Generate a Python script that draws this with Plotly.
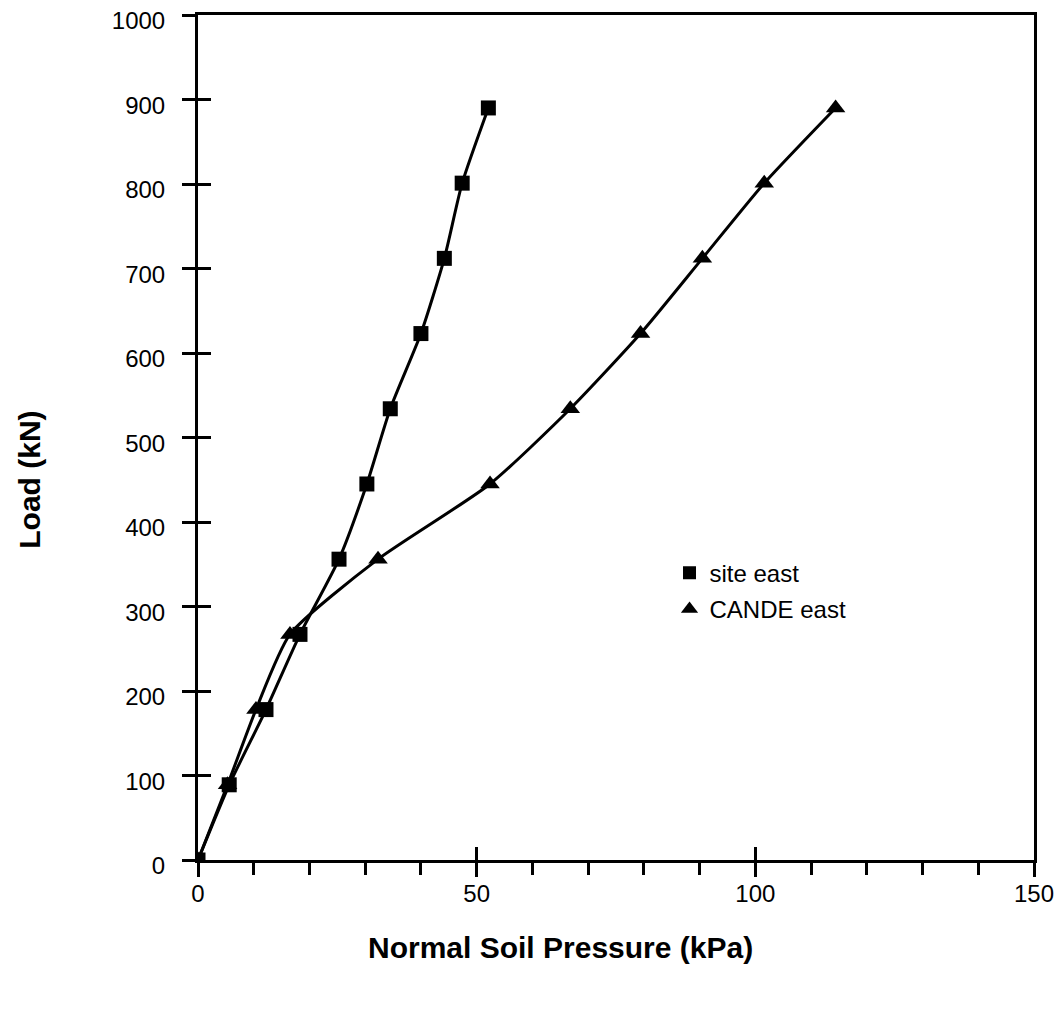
import plotly.graph_objects as go

# Data
load_kN = [0, 89, 178, 267, 356, 445, 534, 623, 712, 801, 890]
site_east_kPa = [0, 5.6, 12.2, 18.3, 25.3, 30.3, 34.5, 40.0, 44.2, 47.4, 52.1]
cande_east_kPa = [0, 5.3, 10.4, 16.5, 32.3, 52.4, 66.8, 79.4, 90.5, 101.6, 114.4]

x_ticks = [0, 50, 100, 150]
y_ticks = [0, 100, 200, 300, 400, 500, 600, 700, 800, 900, 1000]

x_title = "Normal Soil Pressure (kPa)"
y_title = "Load (kN)"

FONT = "Liberation Sans, Arial, sans-serif"
BLACK = "#000000"

fig = go.Figure()

fig.add_trace(go.Scatter(
    x=site_east_kPa, y=load_kN, mode="lines+markers", name="site east",
    line=dict(color=BLACK, width=3, shape="spline", smoothing=0.6),
    marker=dict(symbol="square", size=15, color=BLACK),
    showlegend=False,
))
fig.add_trace(go.Scatter(
    x=cande_east_kPa, y=load_kN, mode="lines+markers", name="CANDE east",
    line=dict(color=BLACK, width=3, shape="spline", smoothing=0.6),
    marker=dict(symbol="triangle-up", size=17, color=BLACK),
    showlegend=False,
))
# legend entries (markers only)
fig.add_trace(go.Scatter(
    x=[None], y=[None], mode="markers", name="site east",
    marker=dict(symbol="square", size=13, color=BLACK), legendgroup="a",
))
fig.add_trace(go.Scatter(
    x=[None], y=[None], mode="markers", name="CANDE east",
    marker=dict(symbol="triangle-up", size=15, color=BLACK), legendgroup="b",
))
# invisible trace to activate overlay axes (inside ticks)
fig.add_trace(go.Scatter(x=[None], y=[None], xaxis="x2", yaxis="y2",
                         showlegend=False, hoverinfo="skip"))

axis_common = dict(
    showgrid=False, zeroline=False, showline=True, linecolor=BLACK,
    linewidth=3, tickcolor=BLACK, tickwidth=3, automargin=False,
    ticklabeloverflow="allow",
    tickfont=dict(family=FONT, size=24, color=BLACK),
)

fig.update_layout(
    width=1062, height=1014,
    margin=dict(l=190, r=36, t=7, b=162),
    paper_bgcolor="white", plot_bgcolor="white",
    font=dict(family=FONT, color=BLACK),
    xaxis=dict(
        **axis_common,
        range=[0, 150], tickvals=x_ticks, ticks="outside", ticklen=14,
        mirror=True, ticklabelstandoff=-4,
        minor=dict(dtick=10, ticks="outside", ticklen=12, tickwidth=3, tickcolor=BLACK),
    ),
    yaxis=dict(
        **axis_common,
        range=[0, 1000], tickvals=y_ticks, ticks="outside", ticklen=13,
        mirror=True, ticklabelstandoff=12, ticklabelshift=6,
    ),
    xaxis2=dict(overlaying="x", matches="x", range=[0, 150], tickvals=x_ticks,
                ticks="inside", ticklen=13, tickwidth=3, tickcolor=BLACK,
                showticklabels=False, showgrid=False, zeroline=False, showline=False,
                side="bottom", automargin=False),
    yaxis2=dict(overlaying="y", matches="y", range=[0, 1000], tickvals=y_ticks,
                ticks="inside", ticklen=13, tickwidth=3, tickcolor=BLACK,
                showticklabels=False, showgrid=False, zeroline=False, showline=False,
                side="left", automargin=False),
    legend=dict(
        x=0.564, y=0.366, xanchor="left", yanchor="top",
        bgcolor="rgba(0,0,0,0)", borderwidth=0,
        font=dict(family=FONT, size=24, color=BLACK),
        traceorder="grouped", tracegroupgap=2,
    ),
    annotations=[
        dict(text=x_title, xref="paper", yref="paper", x=0.434, y=-0.104,
             xanchor="center", yanchor="middle", showarrow=False,
             font=dict(family=FONT, size=30, weight="bold", color=BLACK)),
        dict(text=y_title, xref="paper", yref="paper", x=-0.201, y=0.45,
             xanchor="center", yanchor="middle", showarrow=False, textangle=-90,
             font=dict(family=FONT, size=30, weight="bold", color=BLACK)),
    ],
)

fig.write_html("out.html")
